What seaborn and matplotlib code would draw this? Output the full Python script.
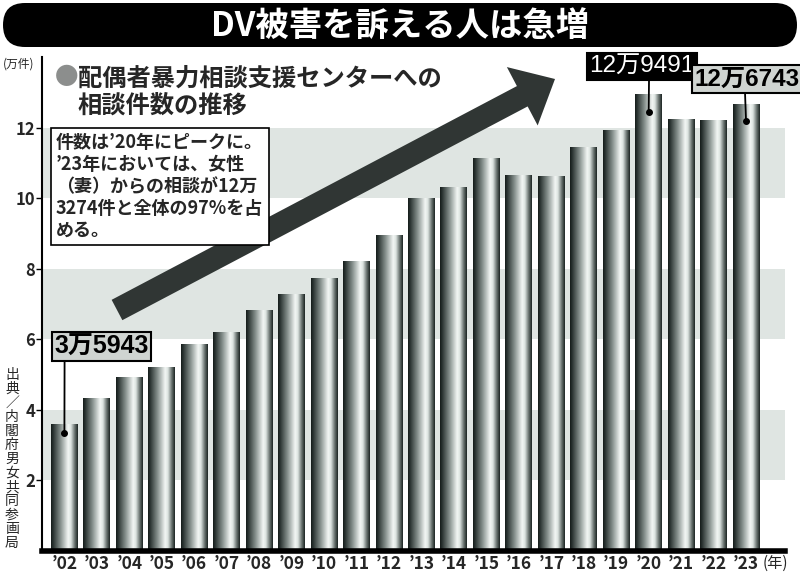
import numpy as np
import seaborn as sns
import matplotlib.pyplot as plt
from matplotlib import font_manager
from matplotlib.colors import LinearSegmentedColormap
from matplotlib.patches import Polygon, FancyBboxPatch
from matplotlib.transforms import Affine2D

# Data (万件)
years = ['’02', '’03', '’04', '’05', '’06', '’07', '’08', '’09', '’10', '’11', '’12',
         '’13', '’14', '’15', '’16', '’17', '’18', '’19', '’20', '’21', '’22', '’23']
counts = [3.5943, 4.3225, 4.9329, 5.2145, 5.8528, 6.2078, 6.8196, 7.2792, 7.7334, 8.2099,
          8.9490, 9.9961, 10.2963, 11.1172, 10.6367, 10.6110, 11.4481, 11.9276,
          12.9491, 12.2478, 12.2211, 12.6743]
yticks = [2, 4, 6, 8, 10, 12]
bands = [(2, 4), (6, 8), (10, 12)]
# highlighted bars: index, label, style
callouts = [(0, '3万5943', 'light'), (18, '12万9491', 'dark'), (21, '12万6743', 'light')]

sns.set_theme(style='white')
names = {f.name for f in font_manager.fontManager.ttflist}
narrow = 'Liberation Sans Narrow' if 'Liberation Sans Narrow' in names else 'Liberation Sans'
JP = 'Noto Sans CJK JP'
plt.rcParams['font.family'] = [JP, 'DejaVu Sans']

W, H = 800, 572
fig = plt.figure(figsize=(8, 5.72), dpi=100)
ax = fig.add_axes([42 / W, 1 - 550.7 / H, 743 / W, 493.7 / H])
# pixel coords (y down) -> figure
T = Affine2D().scale(1 / W, -1 / H).translate(0, 1) + fig.transFigure

sns.barplot(x=years, y=counts, color='#888888', width=0.83, ax=ax, zorder=2)
bars = list(ax.patches)

for lo, hi in bands:
    ax.axhspan(lo, hi, color='#dfe5e2', lw=0, zorder=0.5)

# cylinder-like shading on each bar
cmap = LinearSegmentedColormap.from_list('cyl', [
    (0.0, '#141b19'), (0.08, '#2a3331'), (0.35, '#858f8c'), (0.64, '#f3f7f5'),
    (0.74, '#dde4e1'), (0.88, '#6a7471'), (1.0, '#1b2321')])
grad = np.linspace(0, 1, 256).reshape(1, -1)
for p in bars:
    x0, y0, w, h = p.get_x(), p.get_y(), p.get_width(), p.get_height()
    p.set_visible(False)
    ax.imshow(grad, extent=[x0, x0 + w, y0, y0 + h], cmap=cmap, aspect='auto',
              interpolation='bilinear', zorder=3)

ax.set_xlim(-0.69, 22.2)
ax.set_ylim(0, 14)
ax.set_aspect('auto')
ax.set_xlabel('')
ax.set_ylabel('')
ax.set_yticks(yticks)
ax.set_yticklabels([str(t) for t in yticks], fontsize=12, fontweight='bold')
ax.tick_params(axis='y', length=4, width=1, direction='out', pad=1, color='black', left=True)
ax.tick_params(axis='x', length=0, pad=3)
for lab in ax.get_xticklabels():
    lab.set_fontsize(12.5)
    lab.set_fontweight('bold')
sns.despine(ax=ax)
ax.spines['left'].set_linewidth(1.5)
ax.spines['left'].set_color('black')
ax.spines['bottom'].set_linewidth(4)
ax.spines['bottom'].set_color('black')
ax.spines['bottom'].set_zorder(4)

# callouts
drops = {0: 0.25, 18: 0.5, 21: 0.5}
offsets = {0: (37, 86), 18: (-7, 45), 21: (1, 42)}
relx = {0: 0.11, 18: 0.57, 21: 0.48}
for i, label, style in callouts:
    ydot = counts[i] - drops[i]
    ax.plot(i, ydot, 'o', color='black', ms=4, zorder=5)
    fc, tc = ('#cfd4d1', 'black') if style == 'light' else ('black', 'white')
    ax.annotate(label, xy=(i, ydot), xytext=offsets[i], textcoords='offset pixels',
                ha='center', va='center', fontsize=17.5 if i else 18,
                fontweight='bold' if style == 'light' else 'normal',
                color=tc, family=[narrow, JP], zorder=6, annotation_clip=False,
                bbox=dict(boxstyle='square,pad=0.1', fc=fc, ec='black', lw=1.5),
                arrowprops=dict(arrowstyle='-', color='black', lw=1.3,
                                relpos=(relx[i], 0), shrinkA=0, shrinkB=0))

# big trend arrow
tail, tip = np.array([117.0, 310.0]), np.array([555.0, 79.0])
u = (tip - tail) / np.linalg.norm(tip - tail)
n = np.array([-u[1], u[0]])
base = tip - u * 37
pts = [tail + n * 11.5, base + n * 11.5, base + n * 33, tip,
       base - n * 33, base - n * 11.5, tail - n * 11.5]
fig.add_artist(Polygon(pts, closed=True, transform=T, fc='#303634', ec='none', zorder=4))

# title bar
fig.add_artist(FancyBboxPatch((3, 3), 794, 44, boxstyle='round,pad=0,rounding_size=22',
                              transform=T, fc='black', ec='none', zorder=1))
fig.text(400, 26, 'DV被害を訴える人は急増', transform=T, color='white', fontsize=24,
         fontweight='bold', ha='center', va='center', zorder=2)

fig.text(3, 64, '(万件)', transform=T, fontsize=8.5, ha='left', va='center')
fig.text(775, 563, '(年)', transform=T, fontsize=11, ha='center', va='center')

# subtitle
fig.text(55, 78, '●', transform=T, color='#8c8e8d', fontsize=17, ha='left', va='center',
         zorder=7)
fig.text(78, 92, '配偶者暴力相談支援センターへの\n相談件数の推移', transform=T,
         fontsize=17.5, fontweight='bold', ha='left', va='center', linespacing=1.15,
         zorder=7)

# note box
note = ('件数は’20年にピークに。\n’23年においては、女性\n（妻）からの相談が12万\n'
        '3274件と全体の97%を占\nめる。')
fig.text(56, 133, note, transform=T, fontsize=13, fontweight='bold', ha='left', va='top',
         linespacing=1.2, zorder=7,
         bbox=dict(boxstyle='square,pad=0.3', fc='white', ec='black', lw=1.2))

# source (vertical)
fig.text(12, 368, '\n'.join('出典／内閣府男女共同参画局'), transform=T, fontsize=10,
         ha='center', va='top', linespacing=1.0)

fig.savefig('out.png', dpi=100)
